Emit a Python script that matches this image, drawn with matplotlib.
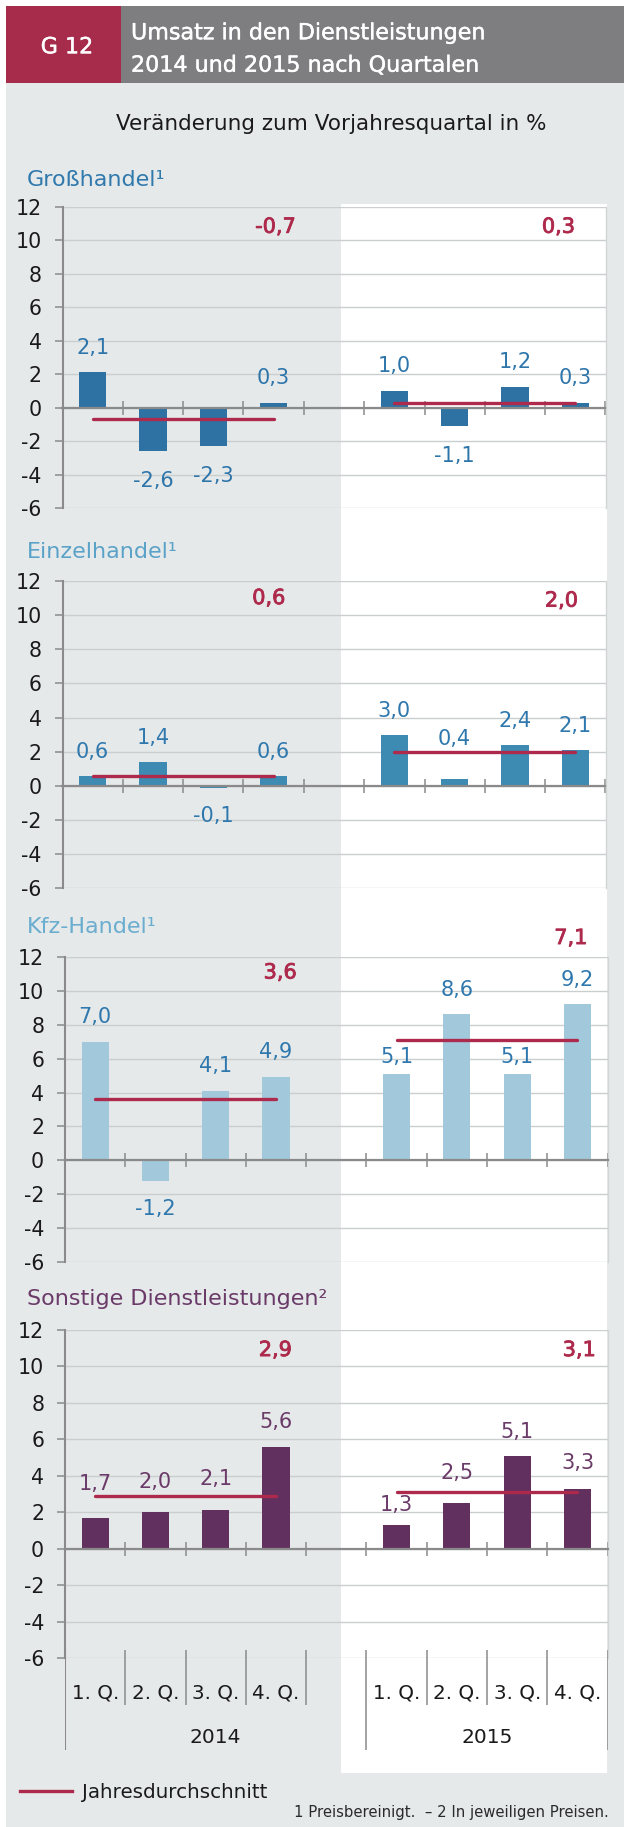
import matplotlib
matplotlib.use('Agg')
import matplotlib.pyplot as plt
import matplotlib.patheffects as pe
from matplotlib.patches import Rectangle
from matplotlib.lines import Line2D

W, H = 624, 1827

plt.rcParams['font.family'] = ['DejaVu Sans']
plt.rcParams['axes.unicode_minus'] = False

# ---------------- data ----------------
quarters = ['1. Q.', '2. Q.', '3. Q.', '4. Q.']
years = ['2014', '2015']
panel_titles = ['Großhandel¹', 'Einzelhandel¹', 'Kfz-Handel¹', 'Sonstige Dienstleistungen²']
gross_2014 = [2.1, -2.6, -2.3, 0.3]
gross_2015 = [1.0, -1.1, 1.2, 0.3]
einzel_2014 = [0.6, 1.4, -0.1, 0.6]
einzel_2015 = [3.0, 0.4, 2.4, 2.1]
kfz_2014 = [7.0, -1.2, 4.1, 4.9]
kfz_2015 = [5.1, 8.6, 5.1, 9.2]
sonst_2014 = [1.7, 2.0, 2.1, 5.6]
sonst_2015 = [1.3, 2.5, 5.1, 3.3]
avg_gross = [-0.7, 0.3]
avg_einzel = [0.6, 2.0]
avg_kfz = [3.6, 7.1]
avg_sonst = [2.9, 3.1]
yticks = [-6, -4, -2, 0, 2, 4, 6, 8, 10, 12]
legend_label = 'Jahresdurchschnitt'
footnote = '1 Preisbereinigt.  – 2 In jeweiligen Preisen.'
subtitle = 'Veränderung zum Vorjahresquartal in %'
header_code = 'G 12'
header_title = ['Umsatz in den Dienstleistungen', '2014 und 2015 nach Quartalen']

series = [
    (gross_2014, gross_2015, avg_gross),
    (einzel_2014, einzel_2015, avg_einzel),
    (kfz_2014, kfz_2015, avg_kfz),
    (sonst_2014, sonst_2015, avg_sonst),
]

# ---------------- styles / layout ----------------
BG = '#e6e9ea'
GRID = '#cbcecf'
AXIS = '#8a8a8a'
AVG = '#ae2a4c'
TXT = '#1a1a1a'
bar_colors = ['#2d72a2', '#3d8ab3', '#a2c8dc', '#62305f']
title_colors = ['#2f79ad', '#5ba2c8', '#6aadcf', '#6a3a68']
label_colors = ['#2e75aa', '#2f78ad', '#2f78ad', '#6a3a68']
# panel pixel boxes: left, right, y(12), y(-6)
panels_px = [
    (62.5, 605.5, 206.7, 508.0),
    (62.5, 605.5, 581.0, 888.3),
    (65.0, 607.6, 956.7, 1262.3),
    (65.0, 607.6, 1330.0, 1658.0),
]
title_base = [186, 557.7, 932.7, 1305]
avg_label_pos = [
    [(3.03, 10.8), (7.72, 10.8)],
    [(2.92, 11.0), (7.77, 10.85)],
    [(3.07, 11.07), (7.89, 13.1)],
    [(2.99, 10.9), (8.03, 10.9)],
]
label_off_px = [
    [24.5, 29.5, 29.5, 24.7, 24.6, 29.6, 25.3, 24.7],
    [24.0, 24.1, 28.7, 24.0, 24.1, 40.0, 24.3, 24.5],
    [24.2, 28.3, 24.4, 24.8, 16.4, 24.4, 16.4, 24.5],
    [33.6, 30.5, 31.0, 24.6, 20.0, 30.4, 23.6, 25.3],
]
x2014 = [0, 1, 2, 3]
x2015 = [5, 6, 7, 8]
FS_TICK = 14.8
FS_LAB = 15
FS_TITLE = 16


def fx(px):
    return px / W


def fy(py):
    return 1 - py / H


def fmt(v):
    return f'{v:.1f}'.replace('.', ',')


fig = plt.figure(figsize=(W / 100, H / 100), dpi=100)
fig.patch.set_facecolor('white')

# background areas
fig.add_artist(Rectangle((fx(6), 0), fx(618), (1827 - 83) / H,
                         transform=fig.transFigure, color=BG, zorder=-20, lw=0))
fig.add_artist(Rectangle((fx(341), fy(1773)), fx(607 - 341), (1773 - 204) / H,
                         transform=fig.transFigure, color='white', zorder=-19, lw=0))
# header
fig.add_artist(Rectangle((fx(6), fy(83)), fx(121 - 6), 77 / H,
                         transform=fig.transFigure, color='#a72c4b', zorder=-18, lw=0))
fig.add_artist(Rectangle((fx(121), fy(83)), fx(624 - 121), 77 / H,
                         transform=fig.transFigure, color='#7e7e80', zorder=-18, lw=0))
hdr_fx = [pe.withStroke(linewidth=0.3, foreground='white')]
fig.text(fx(67), fy(53.3), header_code, color='white', fontsize=16,
         ha='center', va='baseline', path_effects=hdr_fx)
fig.text(fx(131), fy(39.3), header_title[0], color='white', fontsize=16, va='baseline',
         path_effects=hdr_fx)
fig.text(fx(131), fy(71.7), header_title[1], color='white', fontsize=16, va='baseline',
         path_effects=hdr_fx)
fig.text(fx(331), fy(130), subtitle, color=TXT, fontsize=15.5, ha='center', va='baseline')

avg_fx = [pe.withStroke(linewidth=0.6, foreground=AVG)]
for i, (s14, s15, avg) in enumerate(series):
    left, right, ytop, ybot = panels_px[i]
    ax = fig.add_axes([fx(left), fy(ybot), fx(right - left), (ybot - ytop) / H])
    ax.set_facecolor('none')
    ax.set_xlim(-0.5, 8.5)
    ax.set_ylim(-6, 12)
    ax.set_yticks(yticks)
    ax.set_yticklabels([str(t) for t in yticks])
    ax.yaxis.grid(True, color=GRID, lw=1.0, zorder=0)
    ax.set_axisbelow(True)
    ax.spines['top'].set_visible(False)
    ax.spines['right'].set_color('#d3d5d6')
    ax.spines['right'].set_linewidth(1.0)
    ax.spines['left'].set_color(AXIS)
    ax.spines['left'].set_linewidth(1.5)
    ax.spines['bottom'].set_position(('data', 0))
    ax.spines['bottom'].set_color(AXIS)
    ax.spines['bottom'].set_linewidth(1.6)
    ax.spines['bottom'].set_zorder(3)
    ax.set_xticks([k + 0.5 for k in range(9)])
    ax.tick_params(axis='x', direction='inout', length=10, width=1.1, color=AXIS,
                   labelbottom=False)
    ax.tick_params(axis='y', length=5.5, width=1.1, color=AXIS, pad=9.5,
                   labelsize=FS_TICK, labelcolor=TXT)

    vals = list(s14) + list(s15)
    xs = x2014 + x2015
    ax.bar(xs, vals, width=0.45, color=bar_colors[i], zorder=2)
    for j, (x, v) in enumerate(zip(xs, vals)):
        off = label_off_px[i][j] * 0.72
        ax.annotate(fmt(v), (x, v), xytext=(0, off if v >= 0 else -off),
                    textcoords='offset points', ha='center', va='center',
                    fontsize=FS_LAB, color=label_colors[i], zorder=5)
    for k, (xr, a) in enumerate(zip([x2014, x2015], avg)):
        ax.plot([xr[0], xr[-1]], [a, a], color=AVG, lw=2.4,
                solid_capstyle='round', zorder=4)
        lx, ly = avg_label_pos[i][k]
        ax.text(lx, ly, fmt(a), color=AVG, fontsize=FS_LAB, path_effects=avg_fx,
                ha='center', va='center', clip_on=False, zorder=5)
    fig.text(fx(27), fy(title_base[i]), panel_titles[i], color=title_colors[i],
             fontsize=FS_TITLE, va='baseline')

# category label area below last panel
left, right, ytop, ybot = panels_px[3]
lab = fig.add_axes([fx(left), fy(1750), fx(right - left), 100 / H])
lab.set_facecolor('none')
lab.set_xlim(-0.5, 8.5)
lab.set_ylim(0, 1)
lab.axis('off')
lab.vlines([k + 0.5 for k in range(4)] + [k + 5.5 for k in range(3)], 0.45, 1.0,
           color=AXIS, lw=1.1)
lab.vlines([4.5, 8.5], 0, 1.0, color=AXIS, lw=1.1)
lab.vlines([-0.5], 0, 1.0, color=AXIS, lw=1.5)
for x, q in zip(x2014 + x2015, quarters + quarters):
    lab.text(x, 0.517, q, ha='center', va='baseline', fontsize=14.3, color=TXT)
lab.text((x2014[0] + x2015[0]) / 2 - 0.5, 0.067, years[0], ha='center', va='baseline',
         fontsize=14.5, color=TXT)
lab.text((x2015[0] + x2015[-1]) / 2, 0.067, years[1], ha='center',
         va='baseline', fontsize=14.5, color=TXT)

# legend
handle = Line2D([], [], color=AVG, lw=2.4)
fig.legend(handles=[handle], labels=[legend_label], loc='center left',
           bbox_to_anchor=(fx(20), fy(1792)), frameon=False, fontsize=14.3,
           handlelength=2.6, handletextpad=0.5, borderpad=0, borderaxespad=0,
           labelcolor=TXT)
fig.text(fx(609), fy(1816.7), footnote, ha='right', va='baseline', fontsize=10.7,
         color='#2a2a2a')

fig.savefig('out.png', dpi=100, facecolor=fig.get_facecolor())
